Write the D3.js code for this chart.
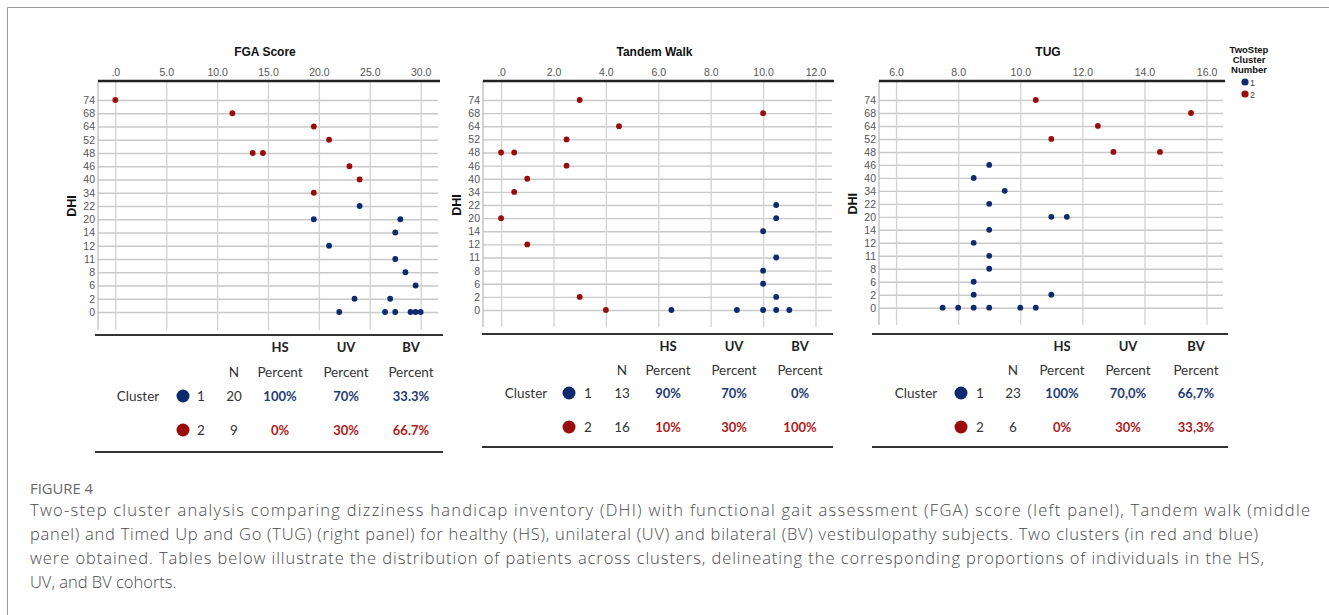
<!DOCTYPE html>
<html>
<head>
<meta charset="utf-8">
<script src="https://cdn.jsdelivr.net/npm/d3@7"></script>
<style>
  body { margin: 0; background: #fff; }
  svg { display: block; }
</style>
</head>
<body>
<svg id="chart" width="1329" height="615"></svg>
<script>
"use strict";

// DHI levels shown as categories on the y axis (top to bottom)
const dhiLevels = ["74", "68", "64", "52", "48", "46", "40", "34", "22", "20", "14", "12", "11", "8", "6", "2", "0"];

// [DHI, value, cluster]
const fgaPoints = [
    ["74", 0, 2], ["68", 11.5, 2], ["64", 19.5, 2], ["52", 21, 2], ["48", 13.5, 2], ["48", 14.5, 2],
    ["46", 23, 2], ["40", 24, 2], ["34", 19.5, 2],
    ["22", 24, 1], ["20", 19.5, 1], ["20", 28, 1], ["14", 27.5, 1], ["12", 21, 1], ["11", 27.5, 1],
    ["8", 28.5, 1], ["6", 29.5, 1], ["2", 23.5, 1], ["2", 27, 1],
    ["0", 22, 1], ["0", 26.5, 1], ["0", 27.5, 1], ["0", 29, 1], ["0", 29.5, 1], ["0", 30, 1]
];
const tandemPoints = [
    ["74", 3, 2], ["68", 10, 2], ["64", 4.5, 2], ["52", 2.5, 2], ["48", 0, 2], ["48", 0.5, 2],
    ["46", 2.5, 2], ["40", 1, 2], ["34", 0.5, 2], ["20", 0, 2], ["12", 1, 2], ["2", 3, 2], ["0", 4, 2],
    ["22", 10.5, 1], ["20", 10.5, 1], ["14", 10, 1], ["11", 10.5, 1], ["8", 10, 1], ["6", 10, 1],
    ["2", 10.5, 1], ["0", 6.5, 1], ["0", 9, 1], ["0", 10, 1], ["0", 10.5, 1], ["0", 11, 1]
];
const tugPoints = [
    ["74", 10.5, 2], ["68", 15.5, 2], ["64", 12.5, 2], ["52", 11, 2], ["48", 13, 2], ["48", 14.5, 2],
    ["46", 9, 1], ["40", 8.5, 1], ["34", 9.5, 1], ["22", 9, 1], ["20", 11, 1], ["20", 11.5, 1],
    ["14", 9, 1], ["12", 8.5, 1], ["11", 9, 1], ["8", 9, 1], ["6", 8.5, 1], ["2", 8.5, 1], ["2", 11, 1],
    ["0", 7.5, 1], ["0", 8, 1], ["0", 8.5, 1], ["0", 9, 1], ["0", 10, 1], ["0", 10.5, 1]
];

const fgaTicks = [0, 5, 10, 15, 20, 25, 30];
const tandemTicks = [0, 2, 4, 6, 8, 10, 12];
const tugTicks = [6, 8, 10, 12, 14, 16];

// cluster tables: [cluster, N, HS, UV, BV]
const tableGroups = ["HS", "UV", "BV"];
const fgaTable = [[1, 20, "100%", "70%", "33.3%"], [2, 9, "0%", "30%", "66.7%"]];
const tandemTable = [[1, 13, "90%", "70%", "0%"], [2, 16, "10%", "30%", "100%"]];
const tugTable = [[1, 23, "100%", "70,0%", "66,7%"], [2, 6, "0%", "30%", "33,3%"]];

const legendLabels = ["1", "2"];

const captionHead = "FIGURE 4";
const captionLines = [
    "Two-step cluster analysis comparing dizziness handicap inventory (DHI) with functional gait assessment (FGA) score (left panel), Tandem walk (middle",
    "panel) and Timed Up and Go (TUG) (right panel) for healthy (HS), unilateral (UV) and bilateral (BV) vestibulopathy subjects. Two clusters (in red and blue)",
    "were obtained. Tables below illustrate the distribution of patients across clusters, delineating the corresponding proportions of individuals in the HS,",
    "UV, and BV cohorts."
];

const dotColor = { 1: "#0c2a6e", 2: "#9a0b0b" };
const textColor = { 1: "#1f3a75", 2: "#b01a1a" };

const panels = [
    {
        title: "FGA Score", points: fgaPoints, ticks: fgaTicks, table: fgaTable,
        left: 98, right: 438, top: 81, bottom: 330, domain: [-1.7, 31.7], rowRange: [100, 312],
        tbl: { lineL: 95, lineR: 443, lineTop: 335, lineBot: 452, cluster: 138, dot: 183, id: 201, n: 234, cols: [280, 346, 411], y: [347, 372, 396, 430] }
    },
    {
        title: "Tandem Walk", points: tandemPoints, ticks: tandemTicks, table: tandemTable,
        left: 483, right: 832, top: 81, bottom: 327, domain: [-0.69, 12.63], rowRange: [100, 310],
        tbl: { lineL: 482, lineR: 833, lineTop: 334, lineBot: 447, cluster: 526, dot: 569, id: 588, n: 622, cols: [668, 734, 800], y: [346, 370, 393, 427] }
    },
    {
        title: "TUG", points: tugPoints, ticks: tugTicks, table: tugTable,
        left: 879, right: 1223, top: 81, bottom: 325, domain: [5.45, 16.53], rowRange: [100, 307.7],
        tbl: { lineL: 872, lineR: 1228, lineTop: 334, lineBot: 447, cluster: 916, dot: 961, id: 980, n: 1013, cols: [1062, 1128, 1196], y: [346, 370, 393, 427] }
    }
];

const svg = d3.select("#chart");

// figure frame
svg.append("path")
    .attr("d", "M7.5,615 V7.5 H1329")
    .attr("fill", "none")
    .attr("stroke", "#9a9a9a")
    .attr("stroke-width", 1);

function spssFormat(v) {
    var s = d3.format(".1f")(v);
    return s.replace(/^0\./, ".");
}

panels.forEach(function (p) {
    var x = d3.scaleLinear().domain(p.domain).range([p.left, p.right]);
    var y = d3.scalePoint().domain(dhiLevels).range(p.rowRange);
    var g = svg.append("g");

    // horizontal grid + y labels
    var yAxis = g.append("g")
        .attr("transform", "translate(" + p.left + ",0)")
        .call(d3.axisLeft(y).tickSize(-(p.right - p.left)).tickPadding(3));
    yAxis.select(".domain").remove();
    yAxis.selectAll(".tick line").attr("stroke", "#c9c9c9").attr("stroke-width", 1.4);
    yAxis.selectAll(".tick text")
        .attr("fill", "#555")
        .style("font", "10.5px 'Liberation Sans', Arial, sans-serif");

    // vertical grid + x labels on top
    var xAxis = g.append("g")
        .attr("transform", "translate(0," + p.top + ")")
        .call(d3.axisTop(x).tickValues(p.ticks).tickFormat(spssFormat)
            .tickSizeInner(-(p.bottom - p.top)).tickSizeOuter(0).tickPadding(5));
    xAxis.select(".domain").remove();
    xAxis.selectAll(".tick line").attr("stroke", "#d2d2d2").attr("stroke-width", 1.3);
    xAxis.selectAll(".tick text")
        .attr("fill", "#555")
        .style("font", "10.5px 'Liberation Sans', Arial, sans-serif");

    // left axis line
    g.append("line")
        .attr("x1", p.left).attr("x2", p.left)
        .attr("y1", p.top).attr("y2", p.bottom)
        .attr("stroke", "#bdbdbd").attr("stroke-width", 1.3);

    // top axis line
    g.append("line")
        .attr("x1", p.left).attr("x2", p.right + 2)
        .attr("y1", p.top).attr("y2", p.top)
        .attr("stroke", "#222").attr("stroke-width", 2.4);

    // title
    g.append("text")
        .attr("x", (p.left + p.right) / 2 - 3)
        .attr("y", 56)
        .attr("text-anchor", "middle")
        .attr("fill", "#111")
        .style("font", "bold 12px 'Liberation Sans', Arial, sans-serif")
        .text(p.title);

    // DHI label
    var labY = (p.rowRange[0] + p.rowRange[1]) / 2;
    g.append("text")
        .attr("transform", "translate(" + (p.left - 22) + "," + labY + ") rotate(-90)")
        .attr("text-anchor", "middle")
        .attr("fill", "#111")
        .style("font", "bold 12.5px 'Liberation Sans', Arial, sans-serif")
        .text("DHI");

    // points
    g.selectAll(".pt")
        .data(p.points)
        .enter()
        .append("circle")
        .attr("class", "pt")
        .attr("cx", function (d) { return x(d[1]); })
        .attr("cy", function (d) { return y(d[0]); })
        .attr("r", 2.9)
        .attr("fill", function (d) { return dotColor[d[2]]; });

    // table
    var t = p.tbl;
    var tg = svg.append("g").style("font-family", "Lato, 'Open Sans', sans-serif");
    [t.lineTop, t.lineBot].forEach(function (ly) {
        tg.append("line")
            .attr("x1", t.lineL).attr("x2", t.lineR)
            .attr("y1", ly).attr("y2", ly)
            .attr("stroke", "#333").attr("stroke-width", 2);
    });
    tg.selectAll(".grp")
        .data(tableGroups)
        .enter()
        .append("text")
        .attr("x", function (d, i) { return t.cols[i]; })
        .attr("y", t.y[0] + 5)
        .attr("text-anchor", "middle")
        .attr("fill", "#222")
        .style("font-weight", "bold")
        .style("font-size", "13px")
        .text(function (d) { return d; });
    tg.append("text")
        .attr("x", t.n).attr("y", t.y[1] + 5)
        .attr("text-anchor", "middle")
        .attr("fill", "#333").style("font-size", "13.5px")
        .text("N");
    tg.selectAll(".pct")
        .data(tableGroups)
        .enter()
        .append("text")
        .attr("x", function (d, i) { return t.cols[i]; })
        .attr("y", t.y[1] + 5)
        .attr("text-anchor", "middle")
        .attr("fill", "#333")
        .style("font-size", "13.5px")
        .text("Percent");
    tg.append("text")
        .attr("x", t.cluster).attr("y", t.y[2] + 5)
        .attr("text-anchor", "middle")
        .attr("fill", "#333").style("font-size", "13.5px")
        .text("Cluster");

    p.table.forEach(function (row, ri) {
        var ry = t.y[2 + ri];
        var cl = row[0];
        tg.append("circle")
            .attr("cx", t.dot).attr("cy", ry)
            .attr("r", 6.5)
            .attr("fill", dotColor[cl]);
        tg.append("text")
            .attr("x", t.id).attr("y", ry + 5)
            .attr("text-anchor", "middle")
            .attr("fill", "#333").style("font-size", "13.5px")
            .text(cl);
        tg.append("text")
            .attr("x", t.n).attr("y", ry + 5)
            .attr("text-anchor", "middle")
            .attr("fill", "#333").style("font-size", "13.5px")
            .text(row[1]);
        row.slice(2).forEach(function (v, ci) {
            tg.append("text")
                .attr("x", t.cols[ci]).attr("y", ry + 5)
                .attr("text-anchor", "middle")
                .attr("fill", textColor[cl])
                .style("font-weight", "bold")
                .style("font-size", "13px")
                .text(v);
        });
    });
});

// legend
var lg = svg.append("g");
["TwoStep", "Cluster", "Number"].forEach(function (w, i) {
    lg.append("text")
        .attr("x", 1249).attr("y", 53 + i * 10)
        .attr("text-anchor", "middle")
        .attr("fill", "#111")
        .style("font", "bold 9.5px 'Liberation Sans', Arial, sans-serif")
        .text(w);
});
legendLabels.forEach(function (lab, i) {
    lg.append("circle")
        .attr("cx", 1245).attr("cy", 82 + i * 12)
        .attr("r", 3.6)
        .attr("fill", dotColor[+lab]);
    lg.append("text")
        .attr("x", 1250).attr("y", 86 + i * 12)
        .attr("fill", "#444")
        .style("font", "9px 'Liberation Sans', Arial, sans-serif")
        .text(lab);
});

// caption
svg.append("text")
    .attr("x", 30).attr("y", 494)
    .attr("fill", "#666")
    .style("font", "14px 'Open Sans', sans-serif")
    .attr("textLength", 63).attr("lengthAdjust", "spacingAndGlyphs")
    .text(captionHead);

var capEnds = [1310, 1258, 1264, null];
captionLines.forEach(function (line, i) {
    var tx = svg.append("text")
        .attr("x", 30).attr("y", 516 + i * 24)
        .attr("fill", "#4a4a4a")
        .style("font", "300 16.5px 'Open Sans', sans-serif")
        .text(line);
    if (capEnds[i]) {
        tx.attr("textLength", capEnds[i] - 30).attr("lengthAdjust", "spacing");
    }
});
</script>
</body>
</html>
